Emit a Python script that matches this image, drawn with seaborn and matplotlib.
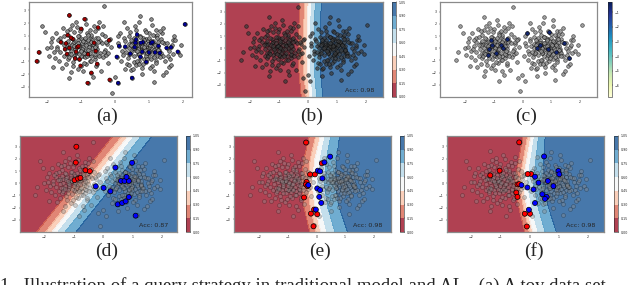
import numpy as np
import matplotlib
matplotlib.use("Agg")
import matplotlib.pyplot as plt
import seaborn as sns

sns.set_style("white")
plt.rcParams['font.family'] = ['DejaVu Sans']

# ---- toy data set ----
left_x = [-1.62, -1.45, -1.30, -1.10, -0.95, -0.80, -0.70, -0.55, -1.20, -1.05,
          -0.90, -0.75, -1.35, -1.50, -0.60, -0.45, -1.15, -1.00, -0.85, -1.70,
          -0.30, -0.40, -1.25, -0.65, -1.05, -0.95, -1.40, -0.55, -1.80, -0.85,
          -1.10, -0.70, -1.55, -0.35, -1.25, -0.50, -1.90, -1.00, -0.80, -1.20,
          -0.62, -1.45, -0.25, -1.65, -0.90, -1.30, -0.45, -1.05, -0.75, -1.60,
          -0.20, -0.30, -1.95, -1.12, -0.88, -0.68, -1.38, -0.98, -1.18, -0.58,
          -1.75, -0.42, -0.15, -1.48, -0.82, -1.28, -0.65, -1.02, -2.00, -0.35,
          -0.78, -1.08, -0.92, -1.22, -0.72, -0.52, -1.42, -0.98, -1.58, -0.48,
          -2.31, -2.25, -2.16, -2.06, -1.84, -1.35, -0.81, -0.16, -0.34, -0.10,
          -1.15, -0.60, -1.72, -0.28, -1.35, -0.95, -0.12, -1.50, -0.70, -1.85,
          -1.05, -0.85, -1.25, -0.65, -1.15, -0.75, -0.95, -1.35, -0.55, -1.45,
          -0.90, -1.10, -0.70, -1.30, -0.80, -1.00, -0.60, -1.20, -0.50, -1.40,
          -0.97, -0.87, -1.17, -0.77, -1.07, -0.67, -1.27, -0.57, -1.37, -0.47,
          -1.52, -0.38, -1.62, -0.33, -1.68, -0.27, -1.78, -0.22, -1.88, -0.18,
          -1.03, -0.93, -0.83, -1.13, -0.73, -1.23, -0.63, -1.33, -0.53, -1.43,
          -1.00, -0.90, -1.10, -0.80, -1.20, -0.70, -1.30, -0.60, -1.40, -0.50]
left_y = [0.85, 0.40, -0.20, 0.65, 0.10, -0.45, 0.90, 0.20, 1.30, -0.85,
          0.55, 0.25, 0.05, -0.60, -0.80, 0.60, -0.35, 1.55, -1.20, 0.15,
          -0.10, 1.15, 0.75, -0.15, 0.30, -0.60, 1.05, -1.40, -0.25, 1.95,
          -1.60, -1.90, 1.60, -0.70, -1.05, 1.65, 0.55, -0.10, 0.70, -0.55,
          0.45, -1.25, 0.35, -0.95, 2.30, -1.85, -0.35, 0.95, -0.95, 0.50,
          -1.10, 0.95, -0.55, 0.10, -0.25, 0.05, 0.32, 0.42, -0.78, -0.55,
          1.25, -1.75, 0.75, -0.05, 1.25, 1.85, -2.20, -1.35, 0.05, 1.80,
          0.38, 0.18, -0.38, 0.52, -0.62, -0.05, -0.42, 0.78, -1.50, 2.10,
          -1.00, -0.30, 1.80, 1.26, -1.47, 2.60, -2.70, -2.45, 3.37, -3.50,
          2.05, 1.40, -0.05, -0.50, -2.30, -1.80, 0.10, 0.95, 1.05, 0.85,
          0.20, -0.10, 0.45, 0.35, -0.25, -0.35, 0.60, -0.40, 0.80, 0.30,
          -0.70, 0.95, -1.00, 0.85, 1.10, -0.55, -0.45, 0.05, 0.50, -0.80,
          0.00, 0.30, -0.05, 0.15, -0.45, 0.65, 0.25, -0.20, -0.65, -0.60,
          0.25, 0.40, -0.30, -0.25, 0.70, 0.55, -0.75, -0.35, 0.10, 0.65,
          1.35, -1.10, -0.60, 1.70, 1.45, -1.40, 1.75, 1.50, -1.20, 1.40,
          -0.20, 0.85, 0.40, -0.10, 0.20, 0.50, -0.45, 0.15, 0.60, 0.85]
right_x = [0.85, 0.70, 1.00, 0.60, 1.15, 0.90, 0.75, 1.30, 0.50, 1.05,
           0.65, 1.20, 0.40, 0.95, 0.80, 1.45, 0.55, 1.10, 0.30, 1.55,
           0.88, 0.72, 1.02, 0.62, 1.25, 0.45, 0.98, 1.65, 0.35, 0.78,
           1.38, 0.52, 1.12, 0.82, 0.68, 1.48, 0.25, 1.70, 0.92, 0.58,
           1.08, 0.38, 1.28, 0.75, 0.95, 1.60, 0.20, 1.18, 0.48, 1.35,
           0.85, 0.66, 1.06, 0.78, 0.96, 1.22, 0.42, 1.52, 0.62, 1.00,
           0.15, 1.85, 0.30, 1.42, 0.72, 1.15, 0.05, 1.75, 0.55, 0.88,
           1.32, 0.70, 1.10, 0.90, 0.60, 1.26, 0.82, 0.46, 1.62, 0.35,
           2.06, 0.75, 1.15, 1.93, 1.78, 1.66, 0.09, 0.00, 1.40, 0.50,
           0.10, 1.95, 0.25, 1.05, 1.50, 0.80, 0.18, 1.20, 0.40, 1.00,
           0.80, 1.00, 0.60, 1.20, 0.70, 1.10, 0.90, 0.50, 1.30, 0.40,
           0.85, 0.95, 0.75, 1.05, 0.65, 1.15, 0.55, 1.25, 0.45, 1.35,
           0.88, 0.98, 0.68, 1.08, 0.78, 1.18, 0.58, 1.28, 0.48, 1.38,
           1.42, 0.32, 1.52, 0.28, 1.58, 0.22, 1.68, 0.12, 1.72, 0.08,
           0.82, 0.92, 1.02, 0.72, 1.12, 0.62, 1.22, 0.52, 1.32, 0.42,
           0.86, 0.94, 0.76, 1.04, 0.66, 1.14, 0.56, 1.24, 0.46, 1.34]
right_y = [0.05, 0.40, -0.30, -0.15, 0.35, 0.75, -0.65, -0.10, 0.55, -0.85,
           1.10, 0.95, -0.45, 0.20, -0.25, 0.45, -1.05, -1.35, 0.15, -0.55,
           1.45, 0.15, 0.10, 0.70, -0.60, 1.30, -0.55, 0.10, -1.20, -1.50,
           1.20, 0.05, 0.60, 0.50, -0.40, -1.00, 0.80, 0.70, -1.05, 1.75,
           1.85, -0.75, 0.20, 0.95, -0.10, -1.45, -0.20, -0.30, -1.70, 0.75,
           -0.80, 0.30, 0.42, -0.05, 0.58, -0.95, 0.95, 0.05, -1.30, 1.20,
           1.25, -0.25, -1.60, 1.65, 2.05, -1.75, -0.65, 1.00, -0.55, 0.28,
           -0.35, -0.95, 0.00, -0.45, 0.45, 0.48, 0.82, -0.25, -0.80, 1.60,
           1.90, 2.58, -2.60, -0.47, 0.66, -1.30, -2.70, -2.20, -2.10, -2.30,
           0.45, 0.30, 2.10, 2.30, -1.85, -2.00, -1.00, 1.45, 0.35, 0.85,
           0.10, -0.20, 0.25, 0.15, -0.40, 0.50, -0.55, 0.35, -0.25, 0.05,
           0.70, -0.80, 0.90, 0.60, -0.95, -0.70, 0.85, 1.05, -0.40, -0.35,
           -0.10, 0.35, 0.00, -0.45, 0.20, 0.25, 0.10, -0.15, 0.65, 0.50,
           -0.60, -0.30, 0.40, 0.60, -0.20, -0.50, 0.25, 0.20, -0.40, 1.00,
           -1.20, 1.30, -1.50, -1.25, 1.10, 1.45, -1.10, -1.60, 1.40, -1.30,
           0.15, -0.35, 0.45, 0.30, -0.20, -0.15, 0.05, 0.80, 0.25, -0.65]

# labelled points in (a)
lab_left = [1, 5, 9, 12, 17, 22, 26, 31, 35, 40, 44, 49, 53, 58, 63, 67, 71, 76, 80, 81, 85, 86, 87,
            104, 113, 127, 139, 148]
lab_right = [2, 6, 10, 14, 18, 23, 27, 33, 38, 42, 47, 52, 57, 61, 66, 70, 74, 80, 86, 89,
             105, 118, 126, 137, 152]
# highlighted points in (c)
hl_c = [3, 11, 24, 39, 55, 72, 108, 122, 175, 191, 207, 220, 238, 262, 280, 301]

# queried points (d), (e), (f): x, y, class
qd_x = [-0.91, -0.93, -0.60, -0.45, -0.97, -0.85, -0.77,
        0.99, 0.42, -0.25, 0.02, 0.25, 0.61, 0.73, 0.88, 0.80, 0.50, 0.65, 0.77, 0.88, 1.11]
qd_y = [3.00, 1.70, 1.07, 0.99, 0.25, 0.38, 0.44,
        1.68, 1.29, -0.25, -0.38, -0.66, 0.19, 0.19, 0.19, 0.52, -1.73, -1.62, -1.48, -1.13, -2.66]
qd_c = [0] * 7 + [1] * 14
qe_x = [-0.36, 0.19, -0.22, -0.05, -0.34, -0.37, -0.31, -0.43, -0.08, 0.03, -0.19, -0.10,
        0.48, 0.28, 0.05, 0.13, 0.21, -0.28, 0.03, 0.13, 0.10, 0.17, -0.02]
qe_y = [3.36, 1.64, 0.72, 0.72, 0.11, -0.11, -0.25, -1.19, -2.19, -2.58, -2.53, -3.58,
        2.19, 1.72, 1.03, 0.97, 0.39, -0.17, -0.44, -0.58, -1.14, -1.64, -2.19]
qe_c = [0] * 12 + [1] * 11
qf_x = [-0.35, 0.06, -0.06, -1.02, -1.34, -0.41, -0.35, -0.45, -0.41, -0.16, 0.02, -0.09,
        0.50, 0.19, 0.31, -0.27, -0.07, 0.14, 0.44, 0.59, 0.53, 0.19, -0.02, 0.99, 1.02, 0.82, 0.63]
qf_y = [3.33, 0.74, 0.74, 1.02, 0.63, -0.11, -0.08, -0.77, -1.13, -2.51, -2.51, -3.55,
        2.18, 0.52, 0.03, -0.17, -0.36, -0.52, -0.91, -1.13, -1.29, -1.63, -2.18, 0.99, 0.72, -0.25, 0.17]
qf_c = [0] * 12 + [1] * 15

# decision boundary (p = 0.5) position and softness read at these heights
bnd_y = [-4.0, -2.0, 0.0, 2.0, 4.0]
bnd_b = [0.10, 0.02, 0.00, 0.02, 0.05]
sl_b = [0.19, 0.19, 0.19, 0.19, 0.19]
sr_b = [0.19, 0.19, 0.19, 0.19, 0.19]
bnd_d = [-1.67, -1.01, -0.35, 0.31, 0.97]
sl_d = [0.34, 0.34, 0.34, 0.34, 0.34]
sr_d = [0.34, 0.34, 0.34, 0.34, 0.34]
bnd_e = [0.20, 0.00, -0.10, 0.00, 0.20]
sl_e = [0.25, 0.25, 0.25, 0.25, 0.25]
sr_e = [0.40, 0.36, 0.34, 0.32, 0.28]
bnd_f = [0.15, -0.05, -0.20, -0.05, 0.10]
sl_f = [0.18, 0.18, 0.18, 0.18, 0.18]
sr_f = [0.35, 0.32, 0.30, 0.25, 0.20]

accs = {"b": "Acc: 0.98", "d": "Acc: 0.87", "e": "Acc: 0.98", "f": "Acc: 0.98"}
levels = [0.0, 0.15, 0.30, 0.45, 0.60, 0.75, 0.90, 1.05]
c_ticks = [-1, -2, -3, -4, -5, -6]

W, H = 640, 285
fig = plt.figure(figsize=(6.4, 2.85), dpi=100)


def box(x0, x1, y0, y1):
    return [x0 / W, 1 - y1 / H, (x1 - x0) / W, (y1 - y0) / H]


all_x = np.array(left_x + right_x)
all_y = np.array(left_y + right_y)


def style(ax, xlim, ylim):
    ax.set_xlim(xlim)
    ax.set_ylim(ylim)
    ax.set_xticks([-2, -1, 0, 1, 2])
    ax.set_yticks([-3, -2, -1, 0, 1, 2, 3])
    ax.tick_params(labelsize=2.3, length=1, width=0.3, pad=1.5, bottom=True, left=True)
    for sp in ax.spines.values():
        sp.set_color("#8a8a8a")
        sp.set_linewidth(0.9)


def field(ax, xlim, ylim, bnd, sl, sr, cax):
    xx, yy = np.meshgrid(np.linspace(xlim[0], xlim[1], 300), np.linspace(ylim[0], ylim[1], 300))
    c = np.interp(yy, bnd_y, bnd)
    s = np.where(xx > c, np.interp(yy, bnd_y, sr), np.interp(yy, bnd_y, sl))
    p = 1 / (1 + np.exp(-(xx - c) / s))
    cs = ax.contourf(xx, yy, p, levels=levels, cmap="RdBu", alpha=0.8)
    cb = fig.colorbar(cs, cax=cax, ticks=levels, format="%.2f")
    cb.outline.set_linewidth(0.4)
    cax.tick_params(labelsize=2.3, length=1, width=0.3, pad=1)


def gray_pts(ax, alpha, s):
    sns.scatterplot(x=all_x, y=all_y, ax=ax, color="#8c8c8c", edgecolor="k",
                    s=s, linewidth=0.35, alpha=alpha, legend=False, zorder=3)


def queried(ax, qx, qy, qc):
    cols = ["#ff0000" if k == 0 else "#0000ff" for k in qc]
    sns.scatterplot(x=qx, y=qy, ax=ax, c=cols, edgecolor="k", s=13,
                    linewidth=0.5, legend=False, zorder=4)


def acc(ax, key, xlim, ylim):
    ax.text(xlim[1] - 0.3, ylim[0] + 0.3, accs[key], ha="right", va="bottom",
            fontsize=4.6, zorder=5)


# (a)
ax = fig.add_axes(box(29, 192, 2, 97))
gray_pts(ax, 1.0, 7)
lx = [left_x[i] for i in lab_left] + [right_x[i] for i in lab_right]
ly = [left_y[i] for i in lab_left] + [right_y[i] for i in lab_right]
lc = ["#a00000"] * len(lab_left) + ["#00009a"] * len(lab_right)
sns.scatterplot(x=lx, y=ly, ax=ax, c=lc, edgecolor="k", s=7, linewidth=0.35,
                legend=False, zorder=4)
style(ax, (-2.54, 2.27), (-3.8, 3.65))

# (b)
xl, yl = (-2.87, 2.6), (-4.0, 3.8)
ax = fig.add_axes(box(225, 383, 2, 97))
field(ax, xl, yl, bnd_b, sl_b, sr_b, fig.add_axes(box(392, 396, 2, 97)))
sns.scatterplot(x=all_x, y=all_y, ax=ax, color="#3a3a3a", edgecolor="k", s=7,
                linewidth=0.35, alpha=0.75, legend=False, zorder=3)
acc(ax, "b", xl, yl)
style(ax, xl, yl)

# (c)
ax = fig.add_axes(box(440, 597, 2, 97))
gray_pts(ax, 0.85, 7)
norm = matplotlib.colors.Normalize(vmin=-6.8, vmax=-0.3)
cmap_c = matplotlib.colormaps["YlGnBu"]
sns.scatterplot(x=all_x[hl_c], y=all_y[hl_c], ax=ax, color=cmap_c(0.95), edgecolor="k",
                s=7, linewidth=0.35, legend=False, zorder=4)
style(ax, (-2.87, 2.6), (-4.0, 3.8))
cax = fig.add_axes(box(608, 612, 2, 97))
cb = fig.colorbar(matplotlib.cm.ScalarMappable(norm=norm, cmap=cmap_c), cax=cax, ticks=c_ticks)
cb.outline.set_linewidth(0.4)
cax.tick_params(labelsize=2.3, length=1, width=0.3, pad=1)

# (d), (e), (f)
panels = [
    ("d", box(20, 177, 136, 232), box(186, 190, 136, 232), (-2.83, 2.52), (-4.0, 3.88),
     bnd_d, sl_d, sr_d, qd_x, qd_y, qd_c),
    ("e", box(234, 391, 136, 232), box(400, 404, 136, 232), (-2.87, 2.6), (-4.05, 3.9),
     bnd_e, sl_e, sr_e, qe_x, qe_y, qe_c),
    ("f", box(447, 604, 136, 232), box(614, 618, 136, 232), (-2.82, 2.55), (-4.0, 3.85),
     bnd_f, sl_f, sr_f, qf_x, qf_y, qf_c),
]
for key, rect, crect, xl, yl, bnd, sl, sr, qx, qy, qc in panels:
    ax = fig.add_axes(rect)
    field(ax, xl, yl, bnd, sl, sr, fig.add_axes(crect))
    gray_pts(ax, 0.4, 8)
    queried(ax, qx, qy, qc)
    acc(ax, key, xl, yl)
    style(ax, xl, yl)

# sub-captions
serif = ["Liberation Serif", "DejaVu Serif"]
for lab, x, y in [("(a)", 107, 116), ("(b)", 312, 116), ("(c)", 526, 116),
                  ("(d)", 107, 251), ("(e)", 320, 251), ("(f)", 534, 251)]:
    fig.text(x / W, 1 - y / H, lab, ha="center", va="center", fontsize=14, family=serif)

# figure caption, cut by the lower edge as in the original crop
fig.text(0.0, 1 - 277 / H,
         "1.  Illustration of a query strategy in traditional model and AL.  (a) A toy data set",
         ha="left", va="top", fontsize=13.5, family=serif)

fig.savefig("out.png", dpi=100)
